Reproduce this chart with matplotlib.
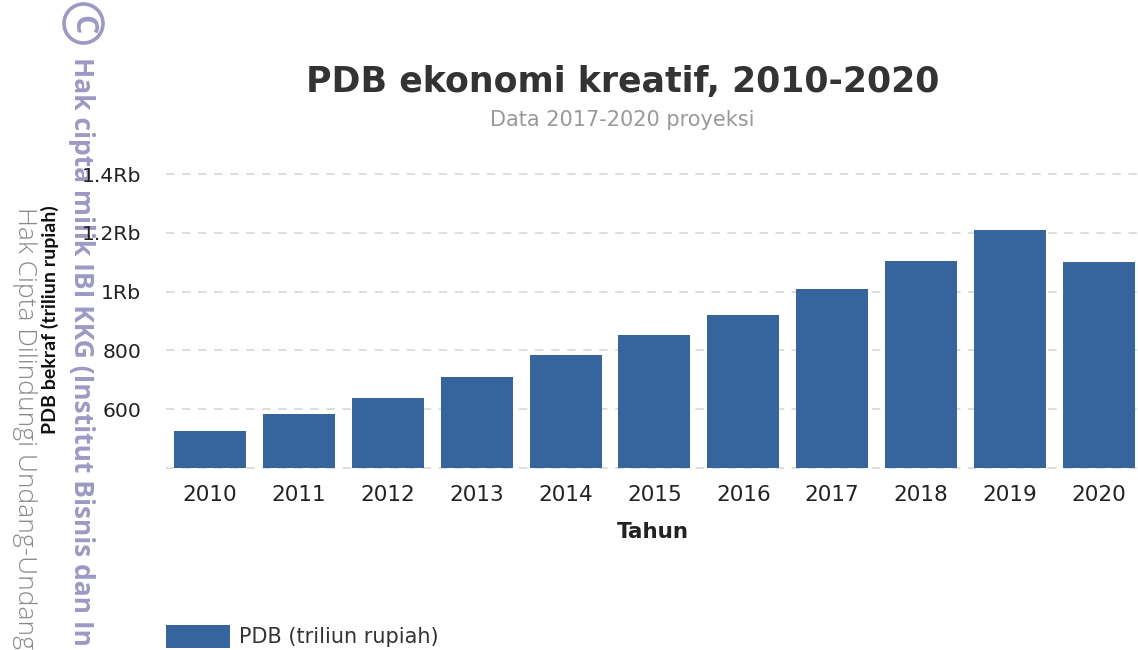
import matplotlib
matplotlib.use("Agg")
import matplotlib.pyplot as plt
from matplotlib.patches import Ellipse, Rectangle

years = ['2010', '2011', '2012', '2013', '2014', '2015', '2016', '2017', '2018', '2019', '2020']
pdb = [525, 582, 638, 710, 785, 853, 922, 1010, 1105, 1210, 1100]
tick_vals = [400, 600, 800, 1000, 1200, 1400]
tick_labels = ['', '600', '800', '1Rb', '1.2Rb', '1.4Rb']

W, H = 1138, 650
BAR_BLUE = '#36659d'
MARK = '#9c99c4'
fig = plt.figure(figsize=(W / 100, H / 100), dpi=100)

# plot area: y=468px is the baseline, 1.4Rb sits at y=174px
ax = fig.add_axes([165.5 / W, 1 - 468 / H, (W - 165.5) / W, (468 - 174) / H])
ax.set_zorder(5)  # tick labels stay on top of the watermark
bars = ax.bar(range(len(years)), pdb, width=0.81, color=BAR_BLUE, zorder=3, label='PDB (triliun rupiah)')
ax.set_xlim(-0.5, 10.44)
ax.set_ylim(400, 1400)
ax.set_yticks(tick_vals)
ax.set_yticklabels(tick_labels, fontsize=14.7, color='#222222', family='DejaVu Sans')
ax.set_xticks(range(len(years)))
ax.set_xticklabels(years, fontsize=15.5, color='#222222', family='DejaVu Sans')
ax.tick_params(length=0)
ax.tick_params(axis='x', pad=12.5)
ax.tick_params(axis='y', pad=17.5)
ax.grid(axis='y', color='#d4d4d4', linestyle=(0, (5.5, 5)), linewidth=1.1, zorder=0)
ax.set_axisbelow(True)
for line in ax.get_ygridlines():
    line.set_clip_on(False)
for s in ax.spines.values():
    s.set_visible(False)


def put(x, y, s, **kw):
    fig.text(x / W, 1 - y / H, s, **kw)


put(623, 82, 'PDB ekonomi kreatif, 2010-2020', fontsize=25, fontweight='bold', color='#333333',
    family='DejaVu Sans', ha='center', va='center')
put(622, 120, 'Data 2017-2020 proyeksi', fontsize=15, color='#999999', family='DejaVu Sans', ha='center', va='center')
put(653, 532, 'Tahun', fontsize=15.5, fontweight='bold', color='#222222', family='DejaVu Sans', ha='center', va='center')
put(50, 320, 'PDB bekraf (triliun rupiah)', fontsize=14, fontweight='bold', color='#111111',
    family='Lato', rotation=90, ha='center', va='center')

# legend swatch and its label
fig.add_artist(Rectangle((166 / W, 1 - 648 / H), 64 / W, 23 / H, transform=fig.transFigure,
                         facecolor=BAR_BLUE, edgecolor='none'))
put(239, 637, bars.get_label(), fontsize=15, color='#333333', family='DejaVu Sans', ha='left', va='center')

# watermark down the left edge
put(81, 57, 'Hak cipta milik IBI KKG (Institut Bisnis dan In', fontsize=19, fontweight='bold',
    color=MARK, family='Open Sans', rotation=270, ha='center', va='top')
put(24, 207, 'Hak Cipta Dilindungi Undang-Undang', fontsize=19, color='#8a8a8a', family='Open Sans',
    rotation=270, ha='center', va='top', fontweight='light')
fig.add_artist(Ellipse((83.5 / W, 1 - 23.5 / H), 39 / W, 39 / H, transform=fig.transFigure,
                       facecolor='none', edgecolor=MARK, linewidth=2.6))
put(82.5, 24.5, 'C', fontsize=22, fontweight='bold', color=MARK, family='Open Sans', rotation=270,
    ha='center', va='center')

fig.savefig('out.png', dpi=100)
